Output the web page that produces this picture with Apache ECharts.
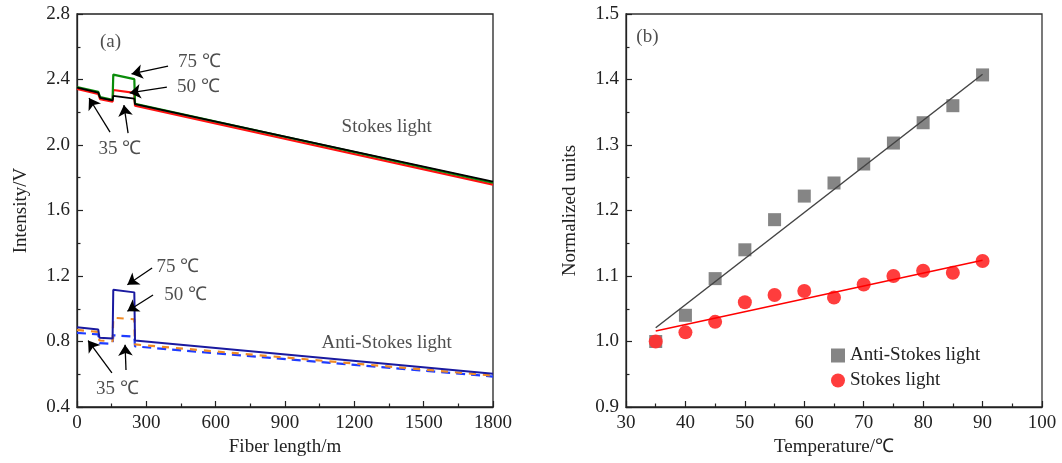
<!DOCTYPE html>
<html><head><meta charset="utf-8">
<script src="https://cdn.jsdelivr.net/npm/echarts@6/dist/echarts.min.js"></script>
<style>html,body{margin:0;padding:0;background:#fff}#c{width:1062px;height:463px}</style>
</head><body><div id="c"></div>
<script>
// ---------- Panel (a): Stokes light traces [fiber length m, intensity V]
const stokes35 = [[0,2.350],[92,2.320],[100,2.288],[154,2.272],[157,2.300],[248,2.283],[251,2.250],[1800,1.776]];
const stokes50 = [[0,2.342],[92,2.312],[100,2.280],[154,2.264],[157,2.336],[248,2.318],[251,2.240],[1800,1.758]];
const stokes75 = [[0,2.354],[92,2.324],[100,2.292],[154,2.276],[157,2.430],[248,2.402],[251,2.252],[1800,1.770]];
// Anti-Stokes light traces
const anti75 = [[0,0.887],[92,0.873],[97,0.823],[154,0.818],[157,1.116],[248,1.100],[251,0.806],[1800,0.603]];
const anti50 = [[0,0.871],[92,0.858],[97,0.806],[154,0.802],[157,0.945],[248,0.936],[251,0.782],[1800,0.592]];
const anti35 = [[0,0.853],[92,0.843],[97,0.790],[154,0.786],[157,0.838],[248,0.830],[251,0.770],[1800,0.586]];
// annotation texts [x, y, text]
const annotA = [[530,2.505,'75 ℃'],[525,2.352,'50 ℃'],[186,1.975,'35 ℃'],[1340,2.11,'Stokes light'],
                [437,1.255,'75 ℃'],[470,1.084,'50 ℃'],[175,0.512,'35 ℃'],[1340,0.790,'Anti-Stokes light'],[145,2.63,'(a)']];
// arrows [[tailX,tailY],[tipX,tipY]]
const arrowsA = [
  [[394,2.482],[236,2.434]],
  [[389,2.354],[228,2.318]],
  [[143,2.079],[52,2.287]],
  [[221,2.073],[203,2.244]],
  [[325,1.249],[218,1.147]],
  [[329,1.084],[218,0.985]],
  [[151,0.608],[48,0.806]],
  [[212,0.626],[208,0.780]]
];
// ---------- Panel (b): normalized units vs temperature
const temps = [35,40,45,50,55,60,65,70,75,80,85,90];
const antiNorm = [1.000,1.040,1.096,1.140,1.186,1.222,1.242,1.271,1.303,1.334,1.360,1.407];
const stokesNorm = [1.000,1.014,1.030,1.060,1.071,1.077,1.067,1.087,1.100,1.108,1.105,1.123];
const antiFit = [[35,1.021],[90,1.408]];
const stokesFit = [[35,1.016],[90,1.124]];

const FONT = 'Liberation Serif';

function axisCommon(min, max, interval, name, gap, dec) {
  return {
    min, max, interval, name, nameLocation: 'middle', nameGap: gap,
    nameTextStyle: {fontFamily: FONT, fontSize: 19, color: '#222'},
    axisLine: {show: true, onZero: false, lineStyle: {color: '#222', width: 1.3}},
    axisTick: {show: true, inside: true, length: 6, lineStyle: {color: '#222', width: 1.2}},
    minorTick: {show: true, splitNumber: 2, length: 3.5, lineStyle: {color: '#222', width: 1.2}},
    axisLabel: {fontFamily: FONT, fontSize: 19, color: '#222', margin: 7,
      formatter: v => (dec ? v.toFixed(dec) : String(Math.round(v)))},
    splitLine: {show: false}
  };
}

const chart = echarts.init(document.getElementById('c'), null, {renderer: 'canvas'});
const option = {
  animation: false,
  grid: [
    {left: 77, top: 14, width: 416, height: 393, show: true, borderColor: '#222', borderWidth: 1.3, backgroundColor: 'transparent'},
    {left: 626, top: 14, width: 416, height: 393, show: true, borderColor: '#333', borderWidth: 1.3, backgroundColor: 'transparent'}
  ],
  xAxis: [
    Object.assign(axisCommon(0, 1800, 300, 'Fiber length/m', 30, 0), {gridIndex: 0, type: 'value'}),
    Object.assign(axisCommon(30, 100, 10, 'Temperature/℃', 30, 0), {gridIndex: 1, type: 'value'})
  ],
  yAxis: [
    Object.assign(axisCommon(0.4, 2.8, 0.4, 'Intensity/V', 46, 1), {gridIndex: 0, type: 'value'}),
    Object.assign(axisCommon(0.9, 1.5, 0.1, 'Normalized units', 46, 1), {gridIndex: 1, type: 'value'})
  ],
  legend: {
    data: [{name: 'Anti-Stokes light', icon: 'rect'}, {name: 'Stokes light', icon: 'circle'}],
    orient: 'vertical', left: 826, top: 341, itemWidth: 14, itemHeight: 14, itemGap: 6,
    textStyle: {fontFamily: FONT, fontSize: 19, color: '#222'}
  },
  series: [
    {type: 'line', data: stokes50, xAxisIndex: 0, yAxisIndex: 0, symbol: 'none', lineStyle: {color: '#ff1010', width: 2.2}},
    {type: 'line', data: stokes75, xAxisIndex: 0, yAxisIndex: 0, symbol: 'none', lineStyle: {color: '#0a8c0a', width: 2.2}},
    {type: 'line', data: stokes35, xAxisIndex: 0, yAxisIndex: 0, symbol: 'none', lineStyle: {color: '#000', width: 1.8}},
    {type: 'line', data: anti35, xAxisIndex: 0, yAxisIndex: 0, symbol: 'none', lineStyle: {color: '#1f3cff', width: 2.2, type: [9, 6]}},
    {type: 'line', data: anti50, xAxisIndex: 0, yAxisIndex: 0, symbol: 'none', lineStyle: {color: '#f08a24', width: 2.2, type: [7, 7]}},
    {type: 'line', data: anti75, xAxisIndex: 0, yAxisIndex: 0, symbol: 'none', lineStyle: {color: '#1a1aa0', width: 2},
      markLine: {silent: true, symbol: ['none', 'arrow'], symbolSize: 11, precision: 4,
        lineStyle: {color: '#000', width: 1.3, type: 'solid'}, itemStyle: {color: '#000'}, label: {show: false},
        data: arrowsA.map(a => [{coord: a[0]}, {coord: a[1]}])}},
    {type: 'scatter', xAxisIndex: 0, yAxisIndex: 0, symbolSize: 0, silent: true,
      data: annotA.map(a => ({value: [a[0], a[1]], name: a[2]})),
      label: {show: true, position: 'inside', formatter: p => p.name, fontFamily: FONT, fontSize: 19, color: '#222'}},
    {type: 'line', name: 'antiFit', data: antiFit, xAxisIndex: 1, yAxisIndex: 1, symbol: 'none', lineStyle: {color: '#444', width: 1.5}},
    {type: 'line', name: 'stokesFit', data: stokesFit, xAxisIndex: 1, yAxisIndex: 1, symbol: 'none', lineStyle: {color: '#ff0000', width: 1.5}},
    {type: 'scatter', name: 'Anti-Stokes light', data: temps.map((t, i) => [t, antiNorm[i]]), xAxisIndex: 1, yAxisIndex: 1,
      symbol: 'rect', symbolSize: 13, itemStyle: {color: '#666'}},
    {type: 'scatter', name: 'Stokes light', data: temps.map((t, i) => [t, stokesNorm[i]]), xAxisIndex: 1, yAxisIndex: 1,
      symbol: 'circle', symbolSize: 14, itemStyle: {color: '#ff3333', opacity: 0.95}},
    {type: 'scatter', xAxisIndex: 1, yAxisIndex: 1, symbolSize: 0, silent: true,
      data: [{value: [33.6, 1.465], name: '(b)'}],
      label: {show: true, position: 'inside', formatter: p => p.name, fontFamily: FONT, fontSize: 19, color: '#222'}}
  ]
};
chart.setOption(option);
</script></body></html>
